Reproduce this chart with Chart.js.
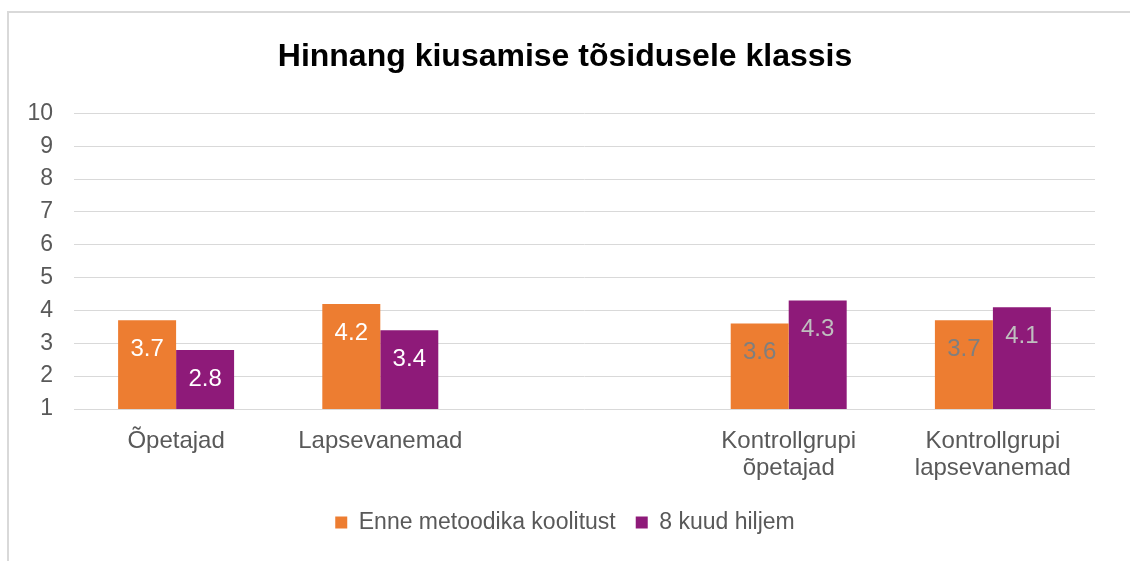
<!DOCTYPE html>
<html>
<head>
<meta charset="utf-8">
<script src="https://cdn.jsdelivr.net/npm/chart.js@4.4.1/dist/chart.umd.min.js"></script>
<style>
  html, body { margin: 0; padding: 0; background: #fff; overflow: hidden; }
  #frame { position: absolute; left: 7px; top: 11px; width: 1200px; height: 600px; border: 2px solid #d9d9d9; }
  #wrap { position: absolute; left: 0; top: 0; width: 1130px; height: 561px; }
</style>
</head>
<body>
<div id="frame"></div>
<div id="wrap"><canvas id="myChart" width="1130" height="561"></canvas></div>
<script>
const categories = ["Õpetajad", "Lapsevanemad", "", ["Kontrollgrupi", "õpetajad"], ["Kontrollgrupi", "lapsevanemad"]];
const before = [3.7, 4.2, null, 3.6, 3.7];
const after = [2.8, 3.4, null, 4.3, 4.1];
const beforeLabelColors = ["#ffffff", "#ffffff", null, "#7f7f7f", "#7f7f7f"];
const afterLabelColors = ["#ffffff", "#ffffff", null, "#bfbfbf", "#bfbfbf"];

const font = "'Liberation Sans', Arial, sans-serif";

// draws the value inside the top of every bar
const valueLabels = {
  id: "valueLabels",
  afterDatasetsDraw(chart) {
    const ctx = chart.ctx;
    ctx.save();
    ctx.font = "24px " + font;
    ctx.textAlign = "center";
    ctx.textBaseline = "middle";
    chart.data.datasets.forEach((ds, i) => {
      const meta = chart.getDatasetMeta(i);
      meta.data.forEach((bar, j) => {
        const v = ds.data[j];
        if (v === null) return;
        ctx.fillStyle = ds.labelColors[j];
        ctx.fillText(v.toFixed(1), bar.x, bar.y + 29);
      });
    });
    ctx.restore();
  },
};

const ctx = document.getElementById("myChart");
new Chart(ctx, {
  type: "bar",
  plugins: [valueLabels],
  data: {
    labels: categories,
    datasets: [
      {
        label: "Enne metoodika koolitust",
        data: before,
        backgroundColor: "#ed7d31",
        labelColors: beforeLabelColors,
        barPercentage: 1,
        categoryPercentage: 0.568,
      },
      {
        label: "8 kuud hiljem",
        data: after,
        backgroundColor: "#8e1a79",
        labelColors: afterLabelColors,
        barPercentage: 1,
        categoryPercentage: 0.568,
      },
    ],
  },
  options: {
    responsive: false,
    animation: false,
    layout: { padding: { left: 0, right: 0, top: 0, bottom: 17 } },
    scales: {
      x: {
        grid: { display: false },
        border: { display: false },
        ticks: {
          color: "#595959",
          font: { family: font, size: 24, lineHeight: 1.12 },
          padding: 11,
          maxRotation: 0,
          autoSkip: false,
        },
        afterFit(s) { s.height = 82; },
      },
      y: {
        min: 1,
        max: 10,
        grid: { color: "#d9d9d9", lineWidth: 1, drawTicks: false },
        border: { display: false },
        ticks: {
          stepSize: 1,
          color: "#595959",
          font: { family: font, size: 23 },
          padding: 21,
        },
        afterFit(s) { s.width = 74; },
      },
      yRight: {
        position: "right",
        display: true,
        grid: { display: false, drawTicks: false },
        border: { display: false },
        ticks: { display: false },
        afterFit(s) { s.width = 35; },
      },
    },
    plugins: {
      title: {
        display: true,
        text: "Hinnang kiusamise tõsidusele klassis",
        color: "#000000",
        font: { family: font, size: 32, weight: "bold", lineHeight: 1.2 },
        padding: { top: 38, bottom: 37 },
      },
      legend: {
        position: "bottom",
        labels: {
          color: "#595959",
          font: { family: font, size: 23 },
          boxWidth: 12,
          boxHeight: 12,
          padding: 20,
        },
      },
      tooltip: { enabled: false },
    },
  },
});
</script>
</body>
</html>
